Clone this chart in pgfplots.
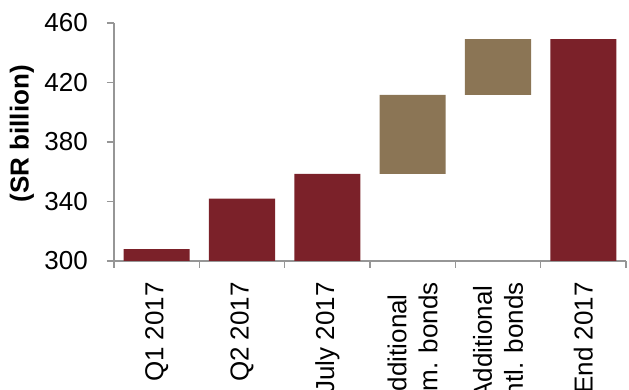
\documentclass[border=0pt]{standalone}
\usepackage{pgfplots}
\pgfplotsset{compat=1.18}
\usepackage{fontspec}
\setmainfont{Liberation Sans}
\definecolor{barred}{RGB}{123,33,41}
\definecolor{bartan}{RGB}{139,117,85}
\definecolor{axgray}{RGB}{150,150,150}
\begin{document}
\begin{tikzpicture}
\begin{axis}[
  name=ax,
  at={(0,0)}, anchor=south west,
  scale only axis,
  width=512pt, height=238pt,
  xmin=-0.5, xmax=5.5,
  ymin=300, ymax=460,
  ytick={300,340,380,420,460},
  yticklabels={300,340,380,420,460},
  xtick={0,1,2,3,4,5},
  xticklabels={Q1 2017, Q2 2017, July 2017, {Additional\\dom. bonds}, {Additional\\intl. bonds}, End 2017},
  minor xtick={-0.5,0.5,1.5,2.5,3.5,4.5,5.5},
  major x tick style={draw=none},
  minor x tick style={draw=axgray, line width=1.2pt},
  ytick style={draw=axgray, line width=1.2pt},
  major tick length=7pt, minor tick length=7pt,
  tick align=outside,
  axis x line*=bottom, axis y line*=left,
  axis line style={draw=axgray, line width=1.2pt, -},
  font=\fontsize{26}{31}\selectfont,
  /pgf/number format/assume math mode=true,
  yticklabel style={font=\fontsize{26}{31}\selectfont, anchor=east, inner sep=0pt, xshift=-19pt},
  xticklabel style={font=\fontsize{26}{31}\selectfont, yshift=-14pt, rotate=90, anchor=east, align=center, inner sep=0pt},
  ylabel={\textbf{(SR billion)}},
  ylabel style={font=\fontsize{26}{31}\selectfont, at={(axis description cs:-0.18,0.534)}, anchor=center},
  ybar stacked,
  bar width=0.774,
  clip=true,
]
\addplot[draw=none, fill=none] coordinates {(0,0) (1,0) (2,0) (3,358.5) (4,411.6) (5,0)};
\addplot[draw=none, fill=barred] coordinates {(0,308) (1,342) (2,358.5) (3,0) (4,0) (5,449.2)};
\addplot[draw=none, fill=bartan] coordinates {(0,0) (1,0) (2,0) (3,53.1) (4,37.6) (5,0)};
\end{axis}
\pgfresetboundingbox
\path[use as bounding box] (-114pt,-129pt) rectangle (515pt,261pt);
\end{tikzpicture}
\end{document}
